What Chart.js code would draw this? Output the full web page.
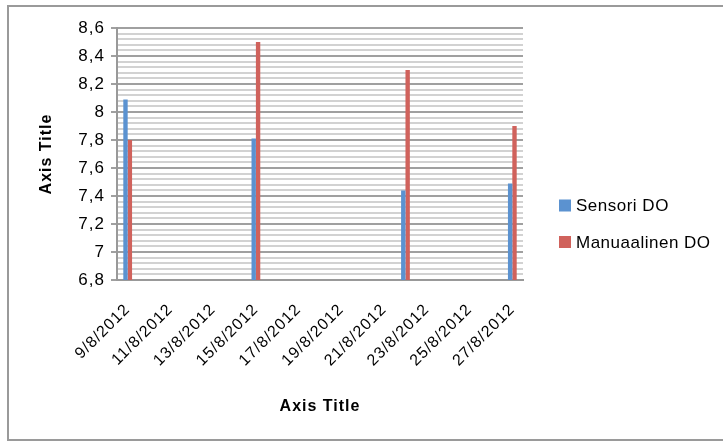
<!DOCTYPE html>
<html>
<head>
<meta charset="utf-8">
<script src="https://cdn.jsdelivr.net/npm/chart.js@4"></script>
<style>
  body { margin: 0; background: #fff; }
  #wrap { width: 723px; height: 442px; }
</style>
</head>
<body>
<div id="wrap"><canvas id="doChart" width="723" height="442"></canvas></div>
<script>
// one category per day, 9/8/2012 .. 27/8/2012
var days = ['9/8/2012', '10/8/2012', '11/8/2012', '12/8/2012', '13/8/2012', '14/8/2012', '15/8/2012',
    '16/8/2012', '17/8/2012', '18/8/2012', '19/8/2012', '20/8/2012', '21/8/2012', '22/8/2012',
    '23/8/2012', '24/8/2012', '25/8/2012', '26/8/2012', '27/8/2012'];

var sensoriDO = [8.09, null, null, null, null, null, 7.81, null, null, null, null, null, null, 7.44,
    null, null, null, null, 7.49];
var manuaalinenDO = [7.8, null, null, null, null, null, 8.5, null, null, null, null, null, null, 8.3,
    null, null, null, null, 7.9];

var seriesNames = ['Sensori DO', 'Manuaalinen DO'];
var seriesColors = ['#5b92d0', '#d0625c'];

var yMin = 6.8;
var yMax = 8.6;
var yMinorStep = 0.04;

Chart.defaults.font.family = "'Liberation Sans', Arial, sans-serif";
Chart.defaults.color = '#000';

function isMajor(v) {
    return Math.round(v * 100) % 20 === 0;
}

// outer frame like the Excel chart area, plus the wide Excel letter spacing
var frame = {
    id: 'frame',
    beforeDraw: function (chart) {
        var ctx = chart.ctx;
        ctx.save();
        ctx.strokeStyle = '#9a9a9a';
        ctx.lineWidth = 2;
        ctx.strokeRect(8, 6, 760, 434);
        ctx.restore();
        ctx.letterSpacing = '1px';
    }
};

// legend to the right of the plot
var sideLegend = {
    id: 'sideLegend',
    afterDraw: function (chart) {
        var ctx = chart.ctx;
        var x = chart.chartArea.right + 36;
        ctx.save();
        ctx.letterSpacing = '0.5px';
        ctx.font = "17px 'Liberation Sans', Arial, sans-serif";
        ctx.textBaseline = 'middle';
        chart.data.datasets.forEach(function (ds, i) {
            var cy = 205.5 + i * 36.5;
            ctx.fillStyle = ds.backgroundColor;
            ctx.fillRect(x, cy - 6, 12, 12);
            ctx.fillStyle = '#000';
            ctx.fillText(ds.label, x + 17, cy + 1);
        });
        ctx.restore();
        ctx.letterSpacing = '0px';
    }
};

var doChart = new Chart(document.getElementById('doChart'), {
    type: 'bar',
    data: {
        labels: days,
        datasets: [
            {
                label: seriesNames[0],
                data: sensoriDO,
                backgroundColor: seriesColors[0],
                borderWidth: 0,
                categoryPercentage: 0.41,
                barPercentage: 1.0,
            },
            {
                label: seriesNames[1],
                data: manuaalinenDO,
                backgroundColor: seriesColors[1],
                borderWidth: 0,
                categoryPercentage: 0.41,
                barPercentage: 1.0,
            },
        ],
    },
    options: {
        responsive: false,
        animation: false,
        layout: {
            padding: { left: 8, top: 28, right: 200, bottom: 2 },
        },
        scales: {
            x: {
                grid: { display: false, drawTicks: false, tickLength: 0 },
                border: { display: true, color: '#999', width: 2 },
                ticks: {
                    autoSkip: false,
                    minRotation: 45,
                    maxRotation: 45,
                    padding: 20,
                    font: { size: 16 },
                    callback: function (val, i) {
                        return i % 2 === 0 ? days[i] : '';
                    },
                },
                title: {
                    display: true,
                    text: 'Axis Title',
                    font: { size: 16, weight: 'bold' },
                    padding: { top: 0, bottom: 24 },
                },
                afterFit: function (scale) {
                    scale.height = 160;
                },
            },
            y: {
                min: yMin,
                max: yMax,
                grid: {
                    color: function (c) { return isMajor(c.tick.value) ? '#a0a0a0' : '#d2d2d2'; },
                    tickColor: function (c) { return isMajor(c.tick.value) ? '#a0a0a0' : 'rgba(0,0,0,0)'; },
                    lineWidth: 2,
                    tickLength: 6,
                },
                border: { display: true, color: '#999', width: 2 },
                ticks: {
                    stepSize: yMinorStep,
                    autoSkip: false,
                    padding: 6,
                    font: { size: 17 },
                    callback: function (v) {
                        return isMajor(v) ? (Math.round(v * 10) / 10).toString().replace('.', ',') : '';
                    },
                },
                title: {
                    display: true,
                    text: 'Axis Title',
                    font: { size: 16, weight: 'bold' },
                    padding: { top: 29, bottom: 0 },
                },
                afterFit: function (scale) {
                    scale.width = 109;
                },
            },
        },
        plugins: {
            legend: { display: false },
            tooltip: { enabled: false },
        },
    },
    plugins: [frame, sideLegend],
});
</script>
</body>
</html>
